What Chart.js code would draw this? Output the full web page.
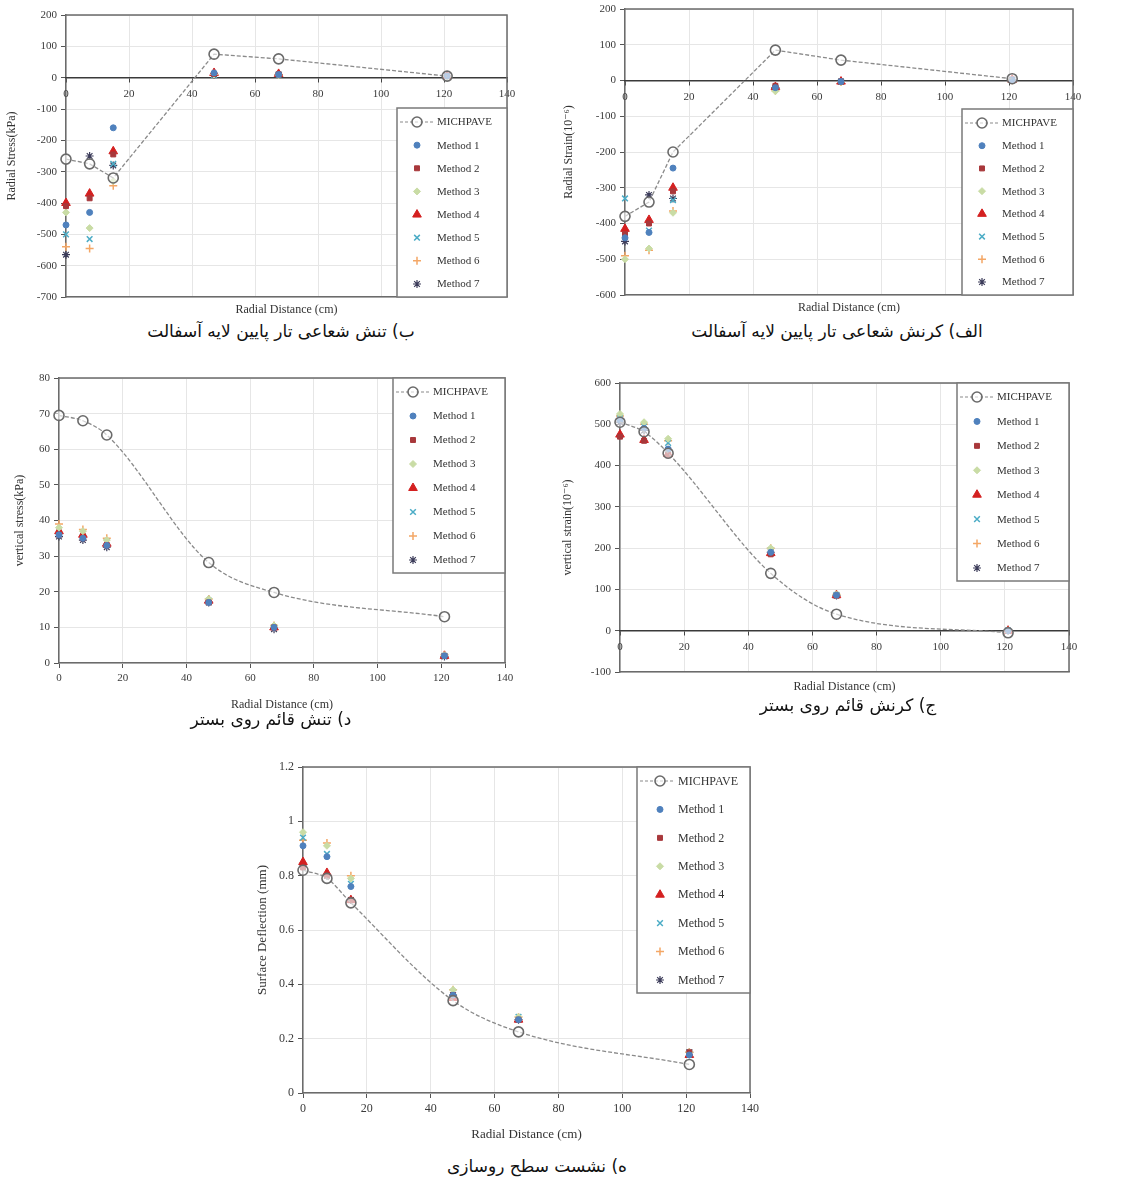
<!DOCTYPE html>
<html>
<head>
<meta charset="utf-8">
<script src="https://cdn.jsdelivr.net/npm/chart.js"></script>
<style>
  body { margin: 0; background: #fff; width: 1131px; height: 1179px; position: relative; overflow: hidden; }
  canvas { position: absolute; }
  .cap { position: absolute; width: 500px; text-align: center; font-family: "DejaVu Sans", "Noto Sans", sans-serif; font-size: 17px; color: #111; line-height: 20px; }
</style>
</head>
<body>
<canvas id="c1" width="560" height="319" style="left:0px;top:0px"></canvas>
<canvas id="c2" width="569" height="317" style="left:562px;top:0px"></canvas>
<canvas id="c3" width="560" height="349" style="left:0px;top:365px"></canvas>
<canvas id="c4" width="571" height="331" style="left:560px;top:365px"></canvas>
<canvas id="c5" width="640" height="389" style="left:230px;top:755px"></canvas>

<div class="cap" dir="rtl" style="left:31px;top:321px">ب) تنش شعاعی تار پایین لایه آسفالت</div>
<div class="cap" dir="rtl" style="left:587px;top:321px">الف) کرنش شعاعی تار پایین لایه آسفالت</div>
<div class="cap" dir="rtl" style="left:21px;top:709px">د) تنش قائم روی بستر</div>
<div class="cap" dir="rtl" style="left:598px;top:695px">ج) کرنش قائم روی بستر</div>
<div class="cap" dir="rtl" style="left:287px;top:1156px">ه) نشست سطح روسازی</div>

<script>
// radial distance of the measuring points (cm)
const distances = [0, 7.5, 15, 47, 67.5, 121];
const methodNames = ["Method 1", "Method 2", "Method 3", "Method 4", "Method 5", "Method 6", "Method 7"];

// radial stress, bottom of asphalt (kPa)
const radialStressMichpave = [-260, -275, -320, 75, 60, 5];
const radialStressMethods = [
  [-470, -430, -160, 15, 10, 5],
  [-410, -385, -245, 12, 10, 5],
  [-430, -480, -330, 10, 8, 3],
  [-400, -370, -235, 15, 12, 5],
  [-500, -515, -275, 8, 10, 5],
  [-540, -545, -345, 12, 10, 5],
  [-565, -250, -280, 10, 10, 5]
];

// radial strain, bottom of asphalt (10^-6)
const radialStrainMichpave = [-380, -340, -200, 85, 57, 5];
const radialStrainMethods = [
  [-440, -425, -245, -20, -3, 2],
  [-430, -400, -310, -15, -3, 2],
  [-500, -470, -370, -30, -4, 1],
  [-415, -390, -300, -18, -3, 2],
  [-330, -420, -335, -22, -3, 2],
  [-490, -475, -365, -28, -4, 1],
  [-450, -320, -330, -20, -3, 2]
];

// vertical stress on subgrade (kPa)
const vertStressMichpave = [69.5, 68, 64, 28.2, 19.8, 13];
const vertStressMethods = [
  [36, 35, 33, 17, 10, 2],
  [36, 35, 33, 17, 10, 2],
  [38, 37, 34.5, 18, 10.5, 2.2],
  [37, 36, 33.5, 17.5, 10, 2],
  [36.5, 35.5, 34, 17.5, 10, 2],
  [39, 37.5, 35, 18, 10.5, 2.3],
  [35.5, 34.5, 32.5, 17, 9.5, 1.8]
];

// vertical strain on subgrade (10^-6)
const vertStrainMichpave = [505, 482, 430, 139, 40, -5];
const vertStrainMethods = [
  [510, 490, 440, 190, 86, 0],
  [470, 460, 425, 185, 85, 0],
  [525, 505, 465, 200, 88, 1],
  [475, 462, 428, 188, 86, 0],
  [515, 495, 455, 195, 87, 0],
  [520, 500, 460, 200, 88, 1],
  [505, 485, 438, 190, 85, 0]
];

// surface deflection (mm)
const deflectionMichpave = [0.82, 0.79, 0.70, 0.34, 0.225, 0.105];
const deflectionMethods = [
  [0.91, 0.87, 0.76, 0.36, 0.27, 0.14],
  [0.83, 0.80, 0.71, 0.36, 0.27, 0.15],
  [0.96, 0.91, 0.79, 0.38, 0.28, 0.15],
  [0.85, 0.81, 0.71, 0.35, 0.27, 0.14],
  [0.94, 0.88, 0.77, 0.37, 0.28, 0.15],
  [0.93, 0.92, 0.80, 0.38, 0.28, 0.15],
  [0.84, 0.80, 0.71, 0.36, 0.27, 0.15]
];

const markerStyles = [
  { pointStyle: "circle", radius: 3, color: "#4F81BD", bw: 1 },
  { pointStyle: "rect", radius: 3.5, color: "#A8383B", bw: 1 },
  { pointStyle: "rectRot", radius: 3.5, color: "#C9DCA5", bw: 1 },
  { pointStyle: "triangle", radius: 5, color: "#D42020", bw: 1 },
  { pointStyle: "crossRot", radius: 4, color: "#4BACC6", bw: 1.5 },
  { pointStyle: "cross", radius: 4, color: "#F4A766", bw: 1.5 },
  { pointStyle: "star", radius: 4, color: "#3C3C5A", bw: 1.2 }
];

Chart.defaults.font.family = "'Liberation Serif', 'DejaVu Serif', serif";
Chart.defaults.font.size = 11;
Chart.defaults.color = "#3a3a3a";

// frame on top and right of plot area
const framePlugin = {
  id: "frame",
  beforeDatasetsDraw(chart) {
    const ca = chart.chartArea;
    const ctx = chart.ctx;
    ctx.save();
    ctx.strokeStyle = "#6b6b6b";
    ctx.lineWidth = 1.5;
    ctx.beginPath();
    ctx.moveTo(ca.left, ca.top);
    ctx.lineTo(ca.right, ca.top);
    ctx.lineTo(ca.right, ca.bottom);
    ctx.stroke();
    ctx.restore();
  }
};

// legend drawn in a box inside the plot
const boxLegend = {
  id: "boxLegend",
  defaults: {},
  afterDraw(chart, args, opts) {
    const ca = chart.chartArea;
    const ctx = chart.ctx;
    const w = opts.w, h = opts.h;
    const x0 = ca.right - w;
    const y0 = opts.corner === "tr" ? ca.top : ca.bottom - h;
    ctx.save();
    ctx.fillStyle = "#fff";
    ctx.fillRect(x0, y0, w, h);
    ctx.strokeStyle = "#7a7a7a";
    ctx.lineWidth = 1.5;
    ctx.strokeRect(x0, y0, w, h);
    const n = chart.data.datasets.length;
    const step = (h - 27) / (n - 1);
    ctx.font = opts.fontSize + "px 'Liberation Serif', serif";
    ctx.textBaseline = "middle";
    chart.data.datasets.forEach((ds, i) => {
      const y = y0 + 14 + i * step;
      const mx = x0 + opts.mx;
      if (i === 0) {
        ctx.strokeStyle = ds.borderColor;
        ctx.lineWidth = 1.2;
        ctx.setLineDash([3, 2]);
        ctx.beginPath();
        ctx.moveTo(x0 + 3, y);
        ctx.lineTo(x0 + opts.tx - 3, y);
        ctx.stroke();
        ctx.setLineDash([]);
      }
      ctx.fillStyle = ds.pointBackgroundColor;
      ctx.strokeStyle = ds.pointBorderColor;
      ctx.lineWidth = ds.pointBorderWidth;
      if (Chart.helpers && Chart.helpers.drawPoint) {
        Chart.helpers.drawPoint(ctx, { pointStyle: ds.pointStyle, radius: ds.pointRadius, rotation: 0, borderWidth: ds.pointBorderWidth }, mx, y);
      } else {
        ctx.beginPath();
        ctx.arc(mx, y, ds.pointRadius, 0, Math.PI * 2);
        ctx.fill();
        ctx.stroke();
      }
      ctx.fillStyle = "#333";
      ctx.fillText(ds.label, x0 + opts.tx, y + 0.5);
    });
    ctx.restore();
  }
};
Chart.register(boxLegend);

function toPoints(vals) {
  return vals.map((v, i) => ({ x: distances[i], y: v }));
}

function buildDatasets(mich, methods, smooth) {
  const sets = [{
    label: "MICHPAVE",
    data: toPoints(mich),
    showLine: true,
    borderColor: "#8a8a8a",
    borderWidth: 1.3,
    borderDash: [4, 2],
    tension: 0,
    cubicInterpolationMode: smooth ? "monotone" : "default",
    pointStyle: "circle",
    pointRadius: 5,
    pointBackgroundColor: "rgba(255,255,255,0.6)",
    pointBorderColor: "#6a6a6a",
    pointBorderWidth: 1.6,
    clip: false
  }];
  methods.forEach((vals, k) => {
    const st = markerStyles[k];
    sets.push({
      label: methodNames[k],
      data: toPoints(vals),
      showLine: false,
      pointStyle: st.pointStyle,
      pointRadius: st.radius,
      pointBackgroundColor: st.color,
      pointBorderColor: st.color,
      pointBorderWidth: st.bw,
      clip: false
    });
  });
  return sets;
}

function makeChart(id, p) {
  const fontSize = p.fontSize || 11;
  const scales = {
    x: {
      type: "linear",
      position: "bottom",
      min: 0, max: 140,
      ticks: { display: !p.zeroAxis, stepSize: 20, padding: 4, font: { size: fontSize } },
      grid: { color: "#e6e6e6", tickColor: "#555", tickLength: p.zeroAxis ? 0 : 5, drawTicks: !p.zeroAxis },
      border: { color: "#6b6b6b", width: 1.5 },
      title: { display: true, text: "Radial Distance (cm)", font: { size: fontSize + 1 }, color: "#333", padding: { top: 0, bottom: 2 } },
      afterFit: s => { s.height = p.xH; s.paddingLeft = 0; s.paddingRight = 0; }
    },
    y: {
      type: "linear",
      position: "left",
      min: p.ymin, max: p.ymax,
      ticks: { stepSize: p.ystep, padding: 4, font: { size: fontSize }, callback: v => String(+v.toFixed(2)) },
      grid: { color: "#e6e6e6", tickColor: "#555", tickLength: 5 },
      border: { color: "#6b6b6b", width: 1.5 },
      title: { display: true, text: p.ytitle, font: { size: fontSize + 1 }, color: "#333", padding: { top: p.ytp, bottom: 0 } },
      afterFit: s => { s.width = p.yW; s.paddingTop = 0; s.paddingBottom = 0; }
    }
  };
  if (p.zeroAxis) {
    scales.x2 = {
      type: "linear",
      axis: "x",
      position: { y: 0 },
      min: 0, max: 140,
      ticks: { stepSize: 20, padding: 6, font: { size: fontSize } },
      grid: { drawOnChartArea: false, tickColor: "#444", tickLength: 4 },
      border: { color: "#3a3a3a", width: 1.5 },
      afterFit: s => { s.paddingLeft = 0; s.paddingRight = 0; }
    };
  }
  return new Chart(document.getElementById(id), {
    type: "scatter",
    data: { datasets: buildDatasets(p.mich, p.methods, p.smooth) },
    options: {
      responsive: false,
      animation: false,
      layout: { padding: { left: 0, top: p.pt, right: p.pr, bottom: 0 } },
      scales: scales,
      plugins: {
        legend: { display: false },
        tooltip: { enabled: false },
        boxLegend: { corner: p.corner, w: p.lw, h: p.lh, mx: p.mx, tx: p.tx, fontSize: fontSize }
      }
    },
    plugins: [framePlugin]
  });
}

makeChart("c1", {
  mich: radialStressMichpave, methods: radialStressMethods, smooth: false,
  ymin: -700, ymax: 200, ystep: 100, ytitle: "Radial Stress(kPa)", ytp: 5,
  yW: 66, xH: 22, pt: 15, pr: 53, zeroAxis: true,
  corner: "br", lw: 110, lh: 189, mx: 20, tx: 40
});
makeChart("c2", {
  mich: radialStrainMichpave, methods: radialStrainMethods, smooth: false,
  ymin: -600, ymax: 200, ystep: 100, ytitle: "Radial Strain(10\u207B\u2076)", ytp: 0,
  yW: 63, xH: 22, pt: 9, pr: 58, zeroAxis: true,
  corner: "br", lw: 111, lh: 186, mx: 20, tx: 40
});
makeChart("c3", {
  mich: vertStressMichpave, methods: vertStressMethods, smooth: true,
  ymin: 0, ymax: 80, ystep: 10, ytitle: "vertical stress(kPa)", ytp: 13,
  yW: 59, xH: 51, pt: 13, pr: 55, zeroAxis: false,
  corner: "tr", lw: 112, lh: 195, mx: 20, tx: 40
});
makeChart("c4", {
  mich: vertStrainMichpave, methods: vertStrainMethods, smooth: true,
  ymin: -100, ymax: 600, ystep: 100, ytitle: "vertical strain(10\u207B\u2076)", ytp: 1,
  yW: 60, xH: 24, pt: 18, pr: 62, zeroAxis: true,
  corner: "tr", lw: 112, lh: 198, mx: 20, tx: 40
});
makeChart("c5", {
  mich: deflectionMichpave, methods: deflectionMethods, smooth: true,
  ymin: 0, ymax: 1.2, ystep: 0.2, ytitle: "Surface Deflection (mm)", ytp: 25,
  yW: 73, xH: 51, pt: 12, pr: 120, zeroAxis: false, fontSize: 12,
  corner: "tr", lw: 113, lh: 226, mx: 23, tx: 41
});
</script>
</body>
</html>
